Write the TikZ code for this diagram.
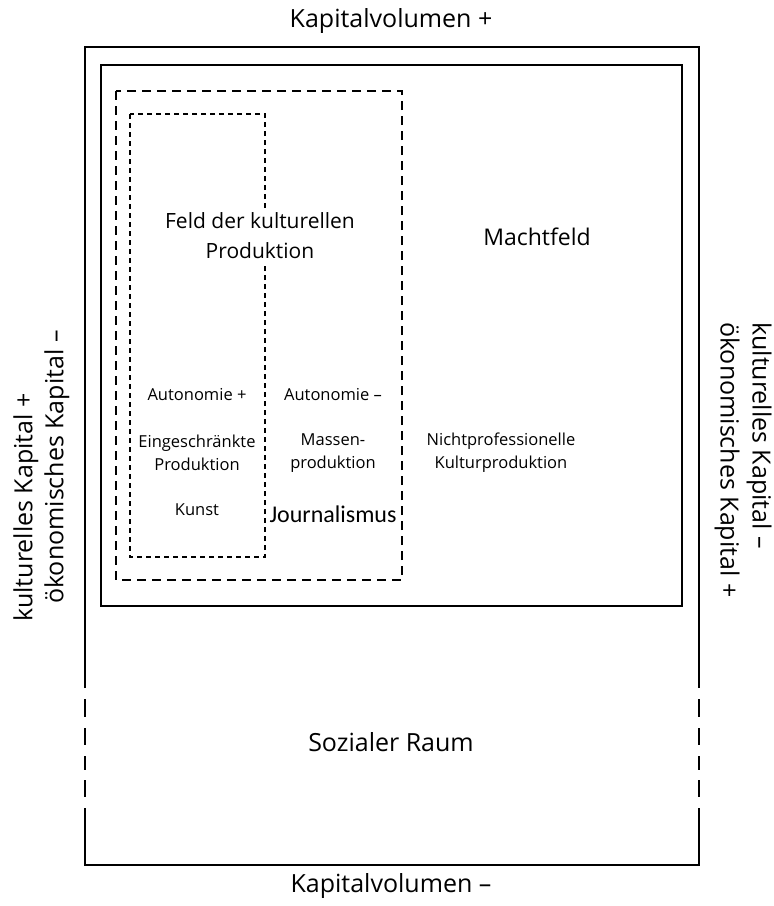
\documentclass[tikz,border=0pt]{standalone}
\usepackage{fontspec}
\setmainfont{Open Sans}
\newfontfamily\calfont{Carlito}
\begin{document}
\begin{tikzpicture}[x=1pt,y=-1pt,
  solidbox/.style={draw=black,line width=2.4pt},
  sideline/.style={line width=2pt},
  feldbox/.style={draw=black,line width=2.4pt,dash pattern=on 9pt off 6pt},
  innerbox/.style={draw=black,line width=1.5pt,dash pattern=on 5pt off 4pt},
  big/.style={font=\fontsize{25}{30}\selectfont,inner sep=0pt},
  mid/.style={font=\fontsize{21}{30}\selectfont,align=center,inner sep=0pt},
  small/.style={font=\fontsize{16.5}{23}\selectfont,align=center,inner sep=0pt}]
\useasboundingbox (0,0) rectangle (774,906);
% outer box (social space)
\coordinate (otl) at (85,47);
\coordinate (otr) at (699,47);
\coordinate (obl) at (85,865);
\coordinate (obr) at (699,865);
\draw[sideline] (85,688) -- (otl) -- (otr) -- (699,688);
\draw[sideline] (85,808) -- (obl) -- (obr) -- (699,808);
\foreach \a/\b in {699/717,728/745,756/770,780/797}{
  \draw[sideline] (85,\a) -- (85,\b);
  \draw[sideline] (699,\a) -- (699,\b);
}
% Machtfeld box
\draw[solidbox] (101,65) rectangle (682,606);
% field of cultural production
\draw[feldbox] (116,91) rectangle (402,580);
% restricted production
\draw[innerbox] (130,114) rectangle (265,557);
% texts
\node[big] (kvp) at (391,21) {Kapitalvolumen +};
\node[big] (kvm) at (391,886) {Kapitalvolumen –};
\node[big] (sr) at (391,742) {Sozialer Raum};
\node[mid,fill=white,inner ysep=4pt] (fkp) at (260,236) {Feld der kulturellen\\Produktion};
\node[font=\fontsize{23}{28}\selectfont,inner sep=0pt] (mf) at (537,237) {Machtfeld};
\node[small] (ap) at (197,395) {Autonomie +};
\node[small] (am) at (333,395) {Autonomie –};
\node[small] (ep) at (197,453) {Eingeschränkte\\Produktion};
\node[small] (mp) at (333,453) {Massen-\\produktion};
\node[small] (np) at (501,453) {Nichtprofessionelle\\Kulturproduktion};
\node[small] (ku) at (197,510) {Kunst};
\node[font=\calfont\fontsize{24}{28}\selectfont,inner sep=0pt] (jo) at (333,514) {Journalismus};
% side labels
\node[big,rotate=90,anchor=west] (lk) at (26,622) {kulturelles Kapital +};
\node[big,rotate=90,anchor=west] (lo) at (57,604) {ökonomisches Kapital –};
\node[big,rotate=-90,anchor=west] (rk) at (759,322) {kulturelles Kapital –};
\node[big,rotate=-90,anchor=west] (ro) at (727,322) {ökonomisches Kapital +};
\end{tikzpicture}
\end{document}
